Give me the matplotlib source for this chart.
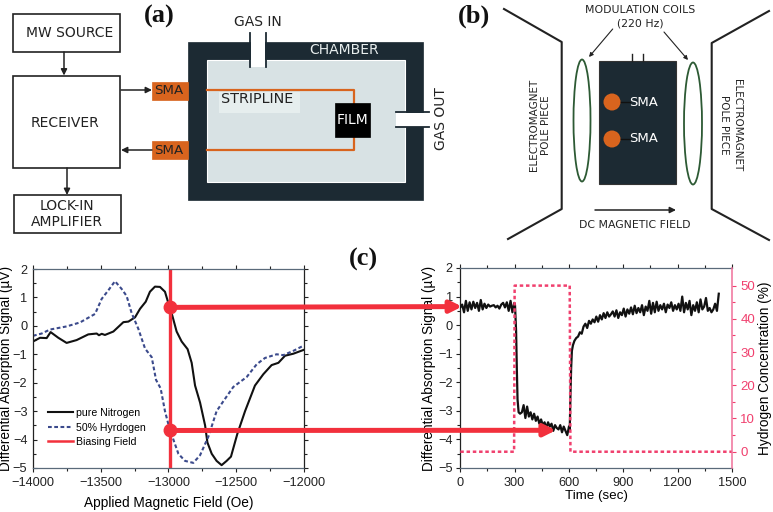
"""Gas sensing setup: block diagram, magnet layout and the two signal plots."""

import numpy as np
import matplotlib
matplotlib.use("Agg")
import matplotlib.pyplot as plt
from matplotlib.lines import Line2D
from matplotlib.patches import ConnectionPatch, Ellipse, Rectangle

W, H = 773, 512
ORANGE = "#d8641e"
DARK = "#1c2a33"
GREY = "#d8e2e4"
RED = "#f2303c"
PINK = "#f0406e"
BLUE = "#3b4a8c"

# left plot: field sweep
field_n2 = [-14000, -13948, -13899, -13870, -13813, -13752, -13678, -13592, -13530, -13513,
            -13493, -13469, -13407, -13333, -13296, -13247, -13210, -13168, -13137, -13100,
            -13063, -13026, -13001, -12977, -12940, -12903, -12859, -12829, -12804, -12767,
            -12730, -12713, -12681, -12645, -12608, -12571, -12539, -12492, -12435, -12362,
            -12300, -12239, -12189, -12140, -12079, -12005]
signal_n2 = [-0.55, -0.42, -0.43, -0.22, -0.42, -0.6, -0.5, -0.3, -0.27, -0.33,
             -0.28, -0.32, -0.2, 0.13, 0.15, 0.3, 0.6, 0.85, 1.2, 1.38,
             1.37, 1.2, 0.8, 0.45, -0.2, -0.55, -0.82, -1.3, -2.1, -2.7,
             -3.5, -4.1, -4.5, -4.75, -4.9, -4.75, -4.6, -3.8, -3.0, -2.1,
             -1.7, -1.38, -1.3, -1.05, -0.98, -0.85]
field_h2 = [-14000, -13936, -13875, -13752, -13653, -13542, -13493, -13444, -13395, -13346,
            -13309, -13272, -13223, -13173, -13124, -13092, -13058, -13026, -12996, -12964,
            -12927, -12878, -12817, -12767, -12706, -12645, -12595, -12522, -12423, -12349,
            -12288, -12202, -12153, -12079, -12005]
signal_h2 = [-0.35, -0.27, -0.13, -0.02, 0.12, 0.42, 0.95, 1.25, 1.57, 1.3,
             1.05, 0.45, -0.1, -0.8, -1.1, -1.9, -2.2, -3.0, -3.55, -4.0,
             -4.5, -4.75, -4.82, -4.55, -3.9, -3.0, -2.65, -2.15, -1.8, -1.35,
             -1.13, -1.0, -1.03, -0.88, -0.7]
bias_field = -12990
bias_signal = [0.65, -3.68]

# right plot: time trace, split at the gas switches
sig_before = [0.62, 0.72, 0.45, 0.85, 0.5, 0.8, 0.55, 0.82, 0.6, 0.78,
              0.5, 0.88, 0.55, 0.75, 0.6, 0.72, 0.65, 0.68, 0.7, 0.62,
              0.68, 0.58, 0.72, 0.78, 0.62, 0.8, 0.5, 0.85, 0.45, 0.78]
time_drop = [302, 308, 312, 316, 322, 330]
sig_drop = [0.7, -0.2, -1.5, -2.6, -3.05, -3.1]
sig_exposed = [-3.05, -2.8, -3.25, -2.85, -3.2, -3.05, -3.3, -3.1, -3.35, -3.2,
               -3.45, -3.3, -3.5, -3.4, -3.6, -3.4, -3.55, -3.45, -3.7, -3.5,
               -3.6, -3.65, -3.5, -3.75, -3.55, -3.7, -3.85, -3.55]
time_rise = [604, 608, 612, 616, 622, 630]
sig_rise = [-3.7, -2.5, -1.5, -0.9, -0.7, -0.55]
sig_recover = [-0.45, -0.4, -0.25, -0.3, -0.05, 0.05, -0.1, 0.15, 0.05, 0.2,
               0.1, 0.3, 0.12, 0.35, 0.2, 0.42, 0.25, 0.45, 0.3, 0.38,
               0.48, 0.3, 0.52, 0.25, 0.45, 0.35, 0.58, 0.3, 0.55, 0.4,
               0.62, 0.38, 0.68, 0.42, 0.6, 0.45, 0.7, 0.35, 0.65, 0.5,
               0.85, 0.4, 0.78, 0.45, 0.82, 0.5, 0.7, 0.55, 0.75, 0.45,
               0.72, 0.6, 0.8, 0.5, 0.7, 0.55, 0.75, 0.5, 1.0, 0.45,
               0.78, 0.55, 0.85, 0.35, 0.7, 0.5, 0.8, 0.45, 0.9, 0.55,
               0.65, 0.95, 0.5, 0.6, 0.45, 0.55, 0.75, 0.5, 1.1]
time_h2 = [0, 297, 300, 604, 608, 1500]
conc_h2 = [0, 0, 50, 50, 0, 0]

time_all = np.concatenate([np.linspace(0, 298, len(sig_before)), time_drop,
                           np.linspace(340, 600, len(sig_exposed)), time_rise,
                           np.linspace(640, 1427, len(sig_recover))])
sig_all = np.concatenate([sig_before, sig_drop, sig_exposed, sig_rise, sig_recover])

plt.rcParams["font.family"] = ["Liberation Sans", "DejaVu Sans"]
fig = plt.figure(figsize=(W / 100, H / 100), dpi=100)


def axes_at(x0, x1, y_top, y_bottom):
    return fig.add_axes([x0 / W, 1 - y_bottom / H, (x1 - x0) / W, (y_bottom - y_top) / H])


def style_axes(ax):
    ax.set_ylim(-5, 2)
    ax.set_yticks(range(-5, 3))
    ax.set_yticks(np.arange(-4.5, 2, 1), minor=True)
    ax.tick_params(which="both", direction="out", top=True, length=3, width=0.8,
                   labelsize=9.2, colors="#222222")
    ax.tick_params(which="minor", length=2)
    ax.tick_params(axis="x", which="major", pad=3.5)
    ax.tick_params(axis="y", which="major", pad=2.5)
    for name, s in ax.spines.items():
        s.set_linewidth(0.9)
        s.set_color("#222222" if name in ("left", "right") else "#5a6a7a")
    ax.set_ylabel("Differential Absorption Signal (\u00b5V)", fontsize=9.8)


# field sweep plot
ax1 = axes_at(33, 304, 269, 468)
ax1.plot(field_n2, signal_n2, color="#111111", lw=1.5)
ax1.plot(field_h2, signal_h2, color=BLUE, lw=1.5, ls=(0, (1.8, 1.2)))
ax1.axvline(bias_field, color=RED, lw=2.4)
ax1.plot([bias_field] * 2, bias_signal, "o", color=RED, ms=9, zorder=5)
ax1.set_xlim(-14000, -12000)
ax1.set_xticks([-14000, -13500, -13000, -12500, -12000])
ax1.set_xticks([-13750, -13250, -12750, -12250], minor=True)
style_axes(ax1)
ax1.tick_params(axis="y", which="both", direction="in")
ax1.tick_params(axis="y", which="major", pad=4)
ax1.yaxis.set_label_coords(-0.072, 0.5)
ax1.set_xlabel("Applied Magnetic Field (Oe)", fontsize=9.8)
ax1.xaxis.set_label_coords(0.5, -0.14)
handles = [Line2D([], [], color="#111111", lw=1.5),
           Line2D([], [], color=BLUE, lw=1.5, ls=(0, (1.8, 1.2))),
           Line2D([], [], color=RED, lw=1.8)]
ax1.legend(handles, ["pure Nitrogen", "50% Hyrdogen", "Biasing Field"], frameon=False,
           fontsize=7.6, loc="lower left", bbox_to_anchor=(0.055, 0.105), labelspacing=0.43,
           handlelength=2.4, handletextpad=0.3, borderpad=0, borderaxespad=0)

# right side ticks of the sweep plot point outwards, the left ones inwards
ax1r = ax1.twinx()
ax1r.set_ylim(-5, 2)
ax1r.set_yticks(range(-5, 3))
ax1r.set_yticks(np.arange(-4.5, 2, 1), minor=True)
ax1r.tick_params(which="both", direction="out", length=3, width=0.8, labelright=False,
                 color="#222222")
ax1r.tick_params(which="minor", length=2)
ax1r.spines[:].set_visible(False)

# time trace plot
ax2 = axes_at(460.3, 732, 268, 468)
ax2.plot(time_all, sig_all, color="#111111", lw=1.6, zorder=4)
ax2.set_xlim(0, 1500)
ax2.set_xticks(range(0, 1501, 300))
ax2.set_xticks(range(150, 1500, 300), minor=True)
style_axes(ax2)
ax2.spines["right"].set_visible(False)
ax2.yaxis.set_label_coords(-0.088, 0.5)
ax2.set_xlabel("Time (sec)", fontsize=9.6)
ax2.xaxis.set_label_coords(0.5, -0.11)

ax3 = ax2.twinx()
ax3.plot(time_h2, conc_h2, color=PINK, lw=1.8, ls=(0, (1.4, 1.1)))
ax3.set_ylim(-4.9, 55.3)
ax3.set_yticks(range(0, 51, 10))
ax3.set_yticks(range(5, 55, 10), minor=True)
ax3.tick_params(which="both", direction="out", length=3, width=0.8, labelsize=9.5, pad=3,
                colors=PINK)
ax3.tick_params(which="minor", length=2)
for name, s in ax3.spines.items():
    s.set_visible(name == "right")
ax3.spines["right"].set_color("#f0709a")
ax3.spines["right"].set_linewidth(1.1)
ax3.set_ylabel("Hydrogen Concentration (%)", fontsize=9.8)
ax3.yaxis.set_label_coords(1.094, 0.5)

# arrows from the biasing points across to the time trace
arrow_targets = [(10, bias_signal[0]), (528, bias_signal[1])]
for y_from, target in zip(bias_signal, arrow_targets):
    fig.add_artist(ConnectionPatch((bias_field, y_from), target, ax1.transData, ax2.transData,
                                   arrowstyle="-|>", mutation_scale=17, lw=3.6, color=RED,
                                   shrinkA=0, shrinkB=0, zorder=6))

# diagrams are drawn on a full-figure pixel layer
dg = fig.add_axes([0, 0, 1, 1], zorder=-1)
dg.set_xlim(0, W)
dg.set_ylim(H, 0)
dg.axis("off")


def box(x0, y0, x1, y1, fc="white", ec="#222222", lw=1.2, z=2):
    dg.add_patch(Rectangle((x0, y0), x1 - x0, y1 - y0, fc=fc, ec=ec, lw=lw, zorder=z))


def arrow(x0, y0, x1, y1, lw=1.1, scale=9):
    dg.annotate("", xy=(x1, y1), xytext=(x0, y0), zorder=6,
                arrowprops=dict(arrowstyle="-|>", color="#222222", lw=lw, mutation_scale=scale,
                                shrinkA=0, shrinkB=0))


def label(x, y, s, size=10, color="#222222", rot=0):
    dg.text(x, y, s, ha="center", va="center", fontsize=size, color=color, rotation=rot,
            family="DejaVu Sans", zorder=7, linespacing=1.25)


def panel(x, y, s):
    dg.text(x, y, s, ha="center", va="center", fontsize=19, fontweight="bold",
            family="Liberation Serif", color="#111111", zorder=7)


# panel a
box(12.5, 13.5, 120, 52)
box(12.5, 75.5, 120, 168)
box(13.5, 195, 121, 233)
label(70, 33, "MW SOURCE")
label(65, 123, "RECEIVER")
label(67, 206, "LOCK-IN")
label(67, 222, "AMPLIFIER")
arrow(64, 52, 64, 75.5)
arrow(67, 168, 67, 195)
arrow(121, 90, 152, 90)
arrow(152, 150, 121, 150)
box(188, 42, 423, 200, fc=DARK, ec=DARK, lw=0.5)
box(207, 60, 405, 182, fc=GREY, ec="white", lw=0.8, z=3)
box(219, 92, 300, 113, fc="#e6eeee", ec="none", lw=0, z=3)
box(152, 82, 188, 100, fc=ORANGE, ec=ORANGE, lw=0.5)
box(152, 141, 188, 159, fc=ORANGE, ec=ORANGE, lw=0.5)
dg.plot([207, 354, 354, 207], [90, 90, 150, 150], color=ORANGE, lw=1.6, zorder=4)
box(334.5, 103, 370, 137, fc="black", ec="black", lw=0.5, z=5)
box(251, 40, 265, 67, fc="white", ec="none", lw=0, z=4)
dg.plot([250, 250], [33, 67], color=DARK, lw=1.3, zorder=5)
dg.plot([266, 266], [33, 67], color=DARK, lw=1.3, zorder=5)
box(396, 113, 425, 127, fc="white", ec="none", lw=0, z=4)
dg.plot([396, 429], [112, 112], color=DARK, lw=1.3, zorder=5)
dg.plot([396, 429], [127, 127], color=DARK, lw=1.3, zorder=5)
label(169, 91, "SMA", 9.6)
label(169, 150, "SMA", 9.6)
label(258, 22, "GAS IN")
label(344, 50, "CHAMBER", color="#e8eeee")
label(257, 99, "STRIPLINE", 10.4)
label(353, 120, "FILM", color="white")
label(441, 119, "GAS OUT", rot=90)
panel(159, 16.5, "(a)")

# panel b
dg.plot([504, 561.7, 561.7, 508], [9, 42, 209, 239], color="#222222", lw=1.5)
dg.plot([769, 711.7, 711.7, 769], [11, 43, 209, 240], color="#222222", lw=1.5)
dg.add_patch(Ellipse((582, 120.5), 17, 122, fc="white", ec="#2d5a34", lw=1.3))
dg.add_patch(Ellipse((693, 123.5), 18, 122, fc="white", ec="#2d5a34", lw=1.3))
box(599, 61, 675.7, 184, fc=DARK, ec="#333333", lw=0.8)
dg.plot([631.7, 631.7], [54, 61], color="#222222", lw=1)
dg.plot([642.7, 642.7], [54, 61], color="#222222", lw=1)
for y in (102, 139):
    dg.add_patch(Ellipse((612, y), 17, 17, fc=ORANGE, ec="none", zorder=5))
    dg.plot([621, 630], [y, y], color="#111111", lw=1, zorder=5)
    label(644, y, "SMA", 9.5, color="white")
label(640, 10, "MODULATION COILS", 7.8)
label(640, 23, "(220 Hz)", 7.8)
arrow(612.7, 29, 589, 57, lw=0.8, scale=6)
arrow(664, 32, 688, 60, lw=0.8, scale=6)
arrow(595, 210, 676, 210, lw=1.1, scale=9)
label(635, 225, "DC MAGNETIC FIELD", 7.8)
label(534, 125, "ELECTROMAGNET", 7.5, rot=90)
label(546, 125, "POLE PIECE", 7.5, rot=90)
label(737, 125, "ELECTROMAGNET", 7.5, rot=-90)
label(724, 125, "POLE PIECE", 7.5, rot=-90)
panel(474, 16.5, "(b)")
panel(363, 259, "(c)")

fig.savefig("out.png", dpi=100)
